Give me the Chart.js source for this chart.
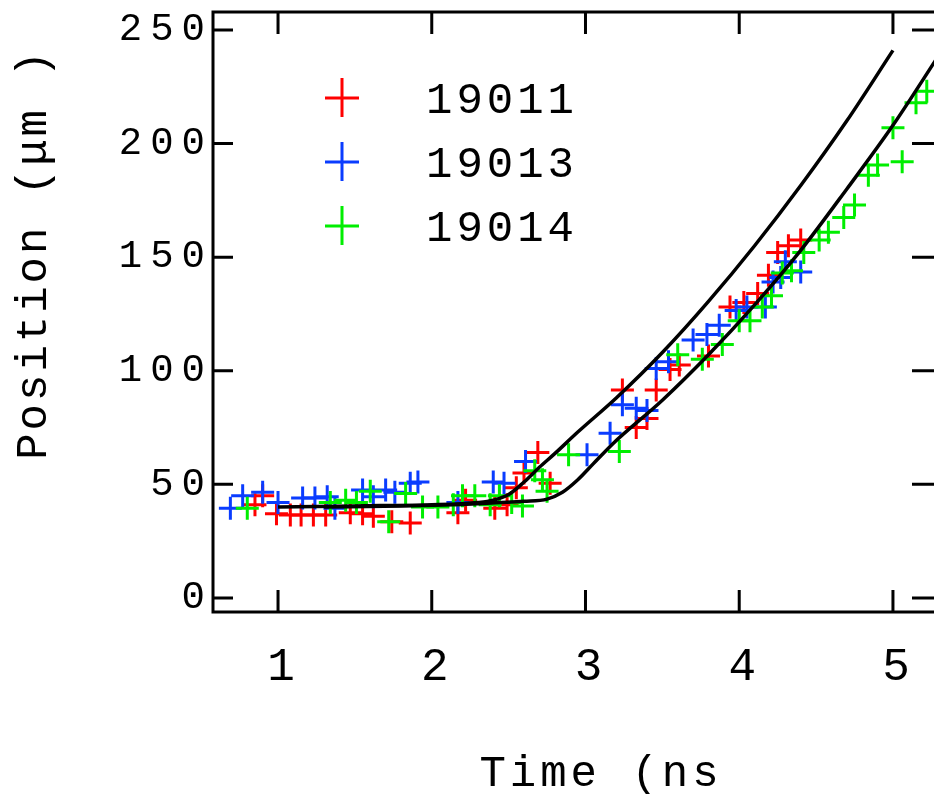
<!DOCTYPE html>
<html>
<head>
<meta charset="utf-8">
<script src="https://cdn.jsdelivr.net/npm/chart.js@4.4.1/dist/chart.umd.min.js"></script>
<style>
  html, body { margin: 0; padding: 0; background: #fff; overflow: hidden; }
</style>
</head>
<body>
<canvas id="myChart" width="946" height="794"></canvas>
<script>
// axis ticks
const timeTicks = [1, 2, 3, 4, 5];
const positionTicks = [0, 50, 100, 150, 200, 250];
const seriesLabels = ['19011', '19013', '19014'];

// shot 19011 (red)
const time19011 = [0.85, 0.90, 0.99, 1.08, 1.15, 1.23, 1.31, 1.47, 1.55, 1.62, 1.74, 1.86, 2.17, 2.22, 2.41, 2.49, 2.55, 2.60, 2.69, 2.77,
    3.24, 3.33, 3.40, 3.46, 3.55, 3.61, 3.80, 3.94, 4.03, 4.12, 4.19, 4.25, 4.32, 4.40];
const pos19011 = [41, 45, 37, 36.5, 36.5, 36.5, 36.5, 37.5, 37, 36, 33.5, 33, 37.5, 43, 39.5, 41, 48.5, 55, 64, 50.5,
    91.5, 75, 79, 91.5, 100.5, 102.5, 106.5, 128, 130, 134, 142, 152, 155, 157.5];

// shot 19013 (blue)
const time19013 = [0.69, 0.77, 0.90, 1.00, 1.16, 1.24, 1.32, 1.37, 1.55, 1.62, 1.70, 1.76, 1.86, 1.91, 2.17, 2.40, 2.47, 2.61,
    3.01, 3.16, 3.24, 3.33, 3.40, 3.46, 3.54, 3.70, 3.79, 3.87, 3.98, 4.05, 4.17, 4.22, 4.27, 4.30, 4.40];
const pos19013 = [39.5, 45, 46.5, 42, 44, 44, 44.5, 39.5, 47.5, 44.5, 47.5, 46.5, 50.5, 51, 42, 51, 50.5, 60,
    63, 72.5, 85, 83.5, 82.5, 101, 104, 113.5, 116, 120, 126.5, 128, 128, 139, 141, 148, 143.5];

// shot 19014 (green)
const time19014 = [0.80, 1.34, 1.44, 1.51, 1.60, 1.72, 1.83, 1.94, 2.04, 2.14, 2.20, 2.28, 2.38, 2.44, 2.52, 2.59, 2.67, 2.72, 2.75,
    2.89, 3.22, 3.60, 3.76, 3.89, 4.00, 4.07, 4.15, 4.21, 4.28, 4.34, 4.42, 4.52, 4.58, 4.68, 4.75, 4.84, 4.90, 5.00, 5.06, 5.15, 5.22];
const pos19014 = [39.5, 42, 43, 42, 47, 33.5, 46, 40, 40, 41, 45, 45, 41, 45, 42, 40.5, 56, 52, 47,
    63, 64.5, 107, 105, 111.5, 122, 122, 128, 133, 143, 144, 152, 157.5, 161, 167.5, 173, 186, 190.5, 207, 192, 218, 223];

// model curves (black)
const fitATime = [1.0, 1.5, 2.0, 2.3, 2.4, 2.5, 2.6, 2.7, 2.8, 2.95, 3.2, 3.5, 3.8, 4.1, 4.4, 4.7, 5.0];
const fitAPos = [40, 40.5, 41, 42, 43, 45.5, 51, 57.5, 63.5, 73, 88, 108, 130.5, 155, 181.5, 210, 241];
const fitBTime = [1.3, 1.8, 2.3, 2.6, 2.75, 2.85, 2.95, 3.05, 3.18, 3.5, 3.8, 4.1, 4.4, 4.7, 5.0, 5.3];
const fitBPos = [40, 40.5, 41.5, 42.5, 43.5, 46.5, 52, 59, 68, 87, 107, 129, 153, 180, 208, 239];

const seriesColors = ['#ff0000', '#0a3cff', '#00ee00'];

function toPoints(xs, ys) {
    return xs.map((x, i) => ({ x: x, y: ys[i] }));
}

function markerSet(label, xs, ys, color, order) {
    return {
        label: label,
        data: toPoints(xs, ys),
        pointStyle: 'cross',
        radius: 11.5,
        borderColor: color,
        backgroundColor: color,
        pointBorderWidth: 3,
        showLine: false,
        order: order
    };
}

function curveSet(xs, ys) {
    return {
        label: '',
        data: toPoints(xs, ys),
        showLine: true,
        borderColor: '#000',
        borderWidth: 3.5,
        pointRadius: 0,
        cubicInterpolationMode: 'monotone',
        order: 0
    };
}

// frame, inward ticks, legend and axis titles
const framePlugin = {
    id: 'framePlugin',
    beforeDraw(chart) {
        // wide spacing for the tick numbers
        chart.ctx.letterSpacing = '8px';
    },
    afterDraw(chart) {
        const { ctx, chartArea: a, scales } = chart;
        ctx.save();
        ctx.letterSpacing = '0px';
        ctx.strokeStyle = '#000';
        ctx.lineWidth = 3;
        ctx.lineCap = 'butt';
        ctx.beginPath();
        ctx.rect(a.left, a.top, a.right - a.left, a.bottom - a.top);
        timeTicks.forEach(v => {
            const x = scales.x.getPixelForValue(v);
            ctx.moveTo(x, a.bottom); ctx.lineTo(x, a.bottom - 22);
            ctx.moveTo(x, a.top); ctx.lineTo(x, a.top + 22);
        });
        positionTicks.forEach(v => {
            const y = scales.y.getPixelForValue(v);
            ctx.moveTo(a.left, y); ctx.lineTo(a.left + 20, y);
            ctx.moveTo(a.right, y); ctx.lineTo(a.right - 24, y);
        });
        ctx.stroke();

        // legend
        const ds = chart.data.datasets.filter(d => d.label);
        ds.forEach((d, i) => {
            const cy = 98 + i * 64;
            ctx.strokeStyle = d.borderColor;
            ctx.lineWidth = 3;
            ctx.beginPath();
            ctx.moveTo(325, cy); ctx.lineTo(359, cy);
            ctx.moveTo(342, cy - 20); ctx.lineTo(342, cy + 19);
            ctx.stroke();
            ctx.fillStyle = '#000';
            ctx.letterSpacing = '4px';
            ctx.font = '44px "Liberation Mono"';
            ctx.textAlign = 'left';
            ctx.textBaseline = 'middle';
            ctx.fillText(d.label, 426, cy + 3);
        });

        // axis titles
        ctx.fillStyle = '#000';
        ctx.font = '44px "Liberation Mono"';
        ctx.letterSpacing = '4px';
        ctx.textAlign = 'center';
        ctx.textBaseline = 'middle';
        ctx.fillText('Time (ns', 601, 774);
        ctx.save();
        ctx.translate(34, 254);
        ctx.rotate(-Math.PI / 2);
        ctx.letterSpacing = '3px';
        ctx.fillText('Position (μm )', 0, 0);
        ctx.restore();
        ctx.restore();
    }
};

const ctx = document.getElementById('myChart').getContext('2d');
new Chart(ctx, {
    type: 'scatter',
    data: {
        datasets: [
            markerSet(seriesLabels[0], time19011, pos19011, seriesColors[0], 3),
            markerSet(seriesLabels[1], time19013, pos19013, seriesColors[1], 2),
            markerSet(seriesLabels[2], time19014, pos19014, seriesColors[2], 1),
            curveSet(fitATime, fitAPos),
            curveSet(fitBTime, fitBPos)
        ]
    },
    options: {
        responsive: false,
        animation: false,
        devicePixelRatio: 1,
        layout: { autoPadding: false, padding: { top: 12, right: 10, left: 0, bottom: 0 } },
        plugins: {
            legend: { display: false },
            tooltip: { enabled: false }
        },
        scales: {
            x: {
                type: 'linear',
                min: 0.577,
                max: 5.28,
                afterFit: s => { s.height = 182; s.paddingLeft = 0; s.paddingRight = 0; },
                afterBuildTicks: s => { s.ticks = timeTicks.map(v => ({ value: v })); },
                grid: { display: false, drawTicks: false },
                border: { display: false },
                ticks: {
                    color: '#000',
                    padding: 28,
                    labelOffset: 7,
                    maxRotation: 0,
                    autoSkip: false,
                    font: { family: '"Liberation Mono"', size: 46 },
                    callback: v => String(v)
                }
            },
            y: {
                type: 'linear',
                min: -6.2,
                max: 257.9,
                afterFit: s => { s.width = 213; s.paddingTop = 0; s.paddingBottom = 0; },
                afterBuildTicks: s => { s.ticks = positionTicks.map(v => ({ value: v })); },
                grid: { display: false, drawTicks: false },
                border: { display: false },
                ticks: {
                    color: '#000',
                    padding: 0,
                    autoSkip: false,
                    font: { family: '"Liberation Mono"', size: 39, lineHeight: 0.3 },
                    callback: v => String(v)
                }
            }
        }
    },
    plugins: [framePlugin]
});
</script>
</body>
</html>
